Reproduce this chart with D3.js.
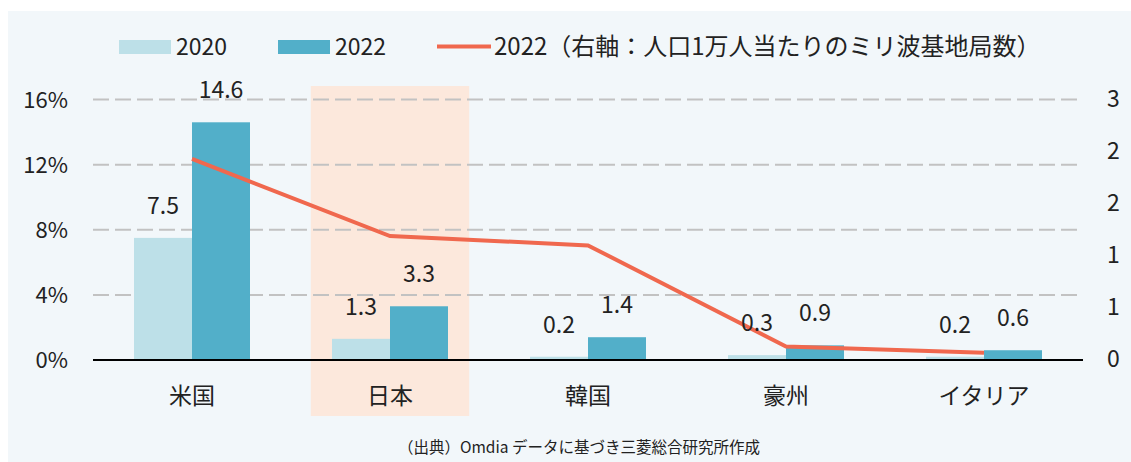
<!DOCTYPE html>
<html><head><meta charset="utf-8">
<script src="https://cdn.jsdelivr.net/npm/d3@7/dist/d3.min.js"></script>
<style>
html,body{margin:0;padding:0;background:#fff;}
svg{display:block;font-family:"Noto Sans CJK JP","Noto Sans",sans-serif;}
</style></head>
<body><svg id="c" width="1131" height="462"></svg>
<script>
const categories = ["米国","日本","韓国","豪州","イタリア"];
const seriesNames = ["2020","2022"];
const values2020 = [7.5, 1.3, 0.2, 0.3, 0.2];
const values2022 = [14.6, 3.3, 1.4, 0.9, 0.6];
const lineName = "2022（右軸：人口1万人当たりのミリ波基地局数）";
const lineValues = [1.93, 1.19, 1.10, 0.13, 0.07];
const leftTicks = [0, 4, 8, 12, 16];
const leftTickLabels = ["0%","4%","8%","12%","16%"];
const rightTicks = [0, 0.5, 1, 1.5, 2, 2.5];
const rightTickLabels = ["0","1","1","2","2","3"];
const highlightCategory = "日本";
const sourceText = "（出典）Omdia データに基づき三菱総合研究所作成";

const colors = {"2020":"#bde0e8","2022":"#52afc9"};
const lineColor = "#f0684e";
const svg = d3.select("#c");
const M = {l:93, r:1083, t:99.5, b:360};

svg.append("rect").attr("x",8).attr("y",11).attr("width",1123).attr("height",451).attr("fill","#f2f7fa");

const x = d3.scaleBand().domain(categories).range([M.l, M.r]).paddingInner(0).paddingOuter(0);
const xs = d3.scaleBand().domain(seriesNames).range([0, x.bandwidth()]).paddingInner(0).paddingOuter(0.707);
const y = d3.scaleLinear().domain([0,16]).range([M.b, M.t]);
const y2 = d3.scaleLinear().domain([0,2.5]).range([M.b, M.t]);

// highlight band
const bw = x.bandwidth();
svg.append("rect").attr("x", x(highlightCategory)+bw*0.1).attr("y",86)
  .attr("width", bw*0.8).attr("height", 330).attr("fill","#fce8dc");

// gridlines
svg.append("g").selectAll("line").data(leftTicks.filter(d=>d>0)).join("line")
  .attr("x1",M.l).attr("x2",M.r).attr("y1",d=>y(d)).attr("y2",d=>y(d))
  .attr("stroke","#c2c2c2").attr("stroke-width",2).attr("stroke-dasharray","16,6");

// left axis
const la = svg.append("g").attr("transform",`translate(${M.l},0)`)
  .call(d3.axisLeft(y).tickValues(leftTicks).tickSize(0).tickPadding(25).tickFormat((d,i)=>leftTickLabels[i]));
la.select(".domain").remove();
la.selectAll("text").attr("font-size",22).attr("fill","#222").attr("font-family","Noto Sans CJK JP").attr("dy","0.35em");

// right axis
const ra = svg.append("g").attr("transform",`translate(${M.r},0)`)
  .call(d3.axisRight(y2).tickValues(rightTicks).tickSize(0).tickPadding(24).tickFormat((d,i)=>rightTickLabels[i]));
ra.select(".domain").remove();
ra.selectAll("text").attr("font-size",23).attr("fill","#222").attr("font-family","Noto Sans CJK JP").attr("dy","0.3em");

// bars
const seriesData = [values2020, values2022];
seriesNames.forEach((s,si)=>{
  const g = svg.append("g");
  g.selectAll("rect").data(seriesData[si]).join("rect")
    .attr("x",(d,i)=>x(categories[i])+xs(s)).attr("width",xs.bandwidth())
    .attr("y",d=>y(d)).attr("height",d=>y(0)-y(d)).attr("fill",colors[s]);
});

// baseline
svg.append("line").attr("x1",M.l).attr("x2",M.r).attr("y1",y(0)).attr("y2",y(0))
  .attr("stroke","#000").attr("stroke-width",2);

// line
const lineGen = d3.line().x((d,i)=>x(categories[i])+bw/2).y(d=>y2(d));
svg.append("path").datum(lineValues).attr("d",lineGen).attr("fill","none")
  .attr("stroke",lineColor).attr("stroke-width",4);

// bar labels
seriesNames.forEach((s,si)=>{
  svg.append("g").selectAll("text").data(seriesData[si]).join("text")
    .attr("x",(d,i)=>x(categories[i])+xs(s)+xs.bandwidth()/2)
    .attr("y",d=>y(d)-24).attr("text-anchor","middle")
    .attr("font-size",23).attr("fill","#222").text(d=>d.toFixed(1));
});

// category labels
svg.append("g").selectAll("text").data(categories).join("text")
  .attr("x",d=>x(d)+bw/2).attr("y",404).attr("text-anchor","middle")
  .attr("font-size",23).attr("fill","#222").text(d=>d);

// legend
const lg = svg.append("g");
lg.append("rect").attr("x",119).attr("y",40).attr("width",52).attr("height",14).attr("fill",colors["2020"]);
lg.append("text").attr("x",176).attr("y",55).attr("font-size",23).attr("fill","#222").text(seriesNames[0]);
lg.append("rect").attr("x",278).attr("y",40).attr("width",52).attr("height",14).attr("fill",colors["2022"]);
lg.append("text").attr("x",335).attr("y",55).attr("font-size",23).attr("fill","#222").text(seriesNames[1]);
lg.append("line").attr("x1",437).attr("x2",491).attr("y1",46.5).attr("y2",46.5).attr("stroke",lineColor).attr("stroke-width",4);
lg.append("text").attr("x",494).attr("y",55).attr("font-size",24).attr("fill","#222").text(lineName);

// source
svg.append("text").attr("x",398).attr("y",453).attr("font-size",15.5).attr("fill","#222").text(sourceText);
</script></body></html>
